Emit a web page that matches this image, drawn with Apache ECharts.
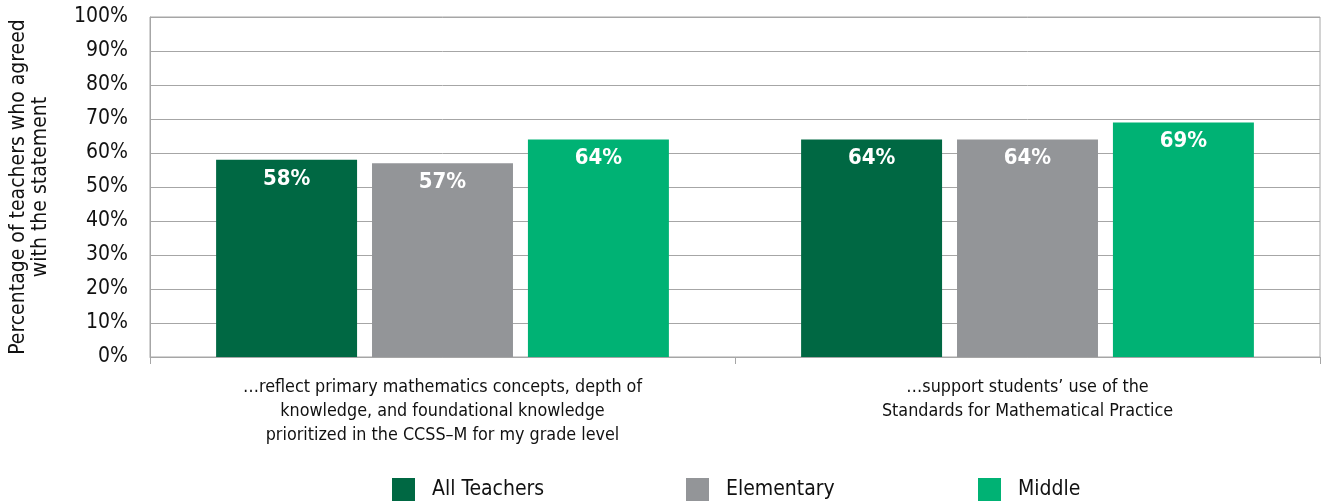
<!DOCTYPE html>
<html>
<head>
<meta charset="utf-8">
<script src="https://cdn.jsdelivr.net/npm/echarts@6/dist/echarts.min.js"></script>
<style>
  html, body { margin: 0; padding: 0; background: #fff; }
  #chart { width: 1324px; height: 503px; }
</style>
</head>
<body>
<div id="chart"></div>
<script>
// categories and values
const categories = [
  '…reflect primary mathematics concepts, depth of\nknowledge, and foundational knowledge\nprioritized in the CCSS–M for my grade level',
  '…support students’ use of the\nStandards for Mathematical Practice'
]
const allTeachers = [58, 64]
const elementary = [57, 64]
const middle = [64, 69]
const yTicks = [0, 10, 20, 30, 40, 50, 60, 70, 80, 90, 100]

const FONT = '"Liberation Sans Narrow", "DejaVu Sans Condensed", "Noto Sans", sans-serif'
const colors = ['#006843', '#939598', '#00b274']

const label = {
  show: true,
  position: 'insideTop',
  distance: 8,
  color: '#fff',
  fontFamily: FONT,
  fontWeight: 'bold',
  fontSize: 22,
  formatter: '{c}%'
}

function legend(name, left) {
  return {
    data: [name],
    left: left,
    top: 478,
    padding: 0,
    itemWidth: 23,
    itemHeight: 23,
    icon: 'rect',
    selectedMode: false,
    textStyle: { fontFamily: FONT, fontSize: 21, color: '#111', padding: [0, 0, 0, 12] }
  }
}

const chart = echarts.init(document.getElementById('chart'))
chart.setOption({
  animation: false,
  color: colors,
  grid: {
    left: 150, right: 4, top: 17, bottom: 146,
    outerBoundsMode: 'none',
    containLabel: false,
    show: true, borderColor: '#a6a6a6', borderWidth: 1
  },
  legend: [
    legend('All Teachers', 392),
    legend('Elementary', 686),
    legend('Middle', 978)
  ],
  xAxis: {
    type: 'category',
    data: categories,
    axisLine: { lineStyle: { color: '#a6a6a6' } },
    axisTick: { show: true, length: 7, lineStyle: { color: '#a6a6a6' } },
    axisLabel: {
      fontFamily: FONT, fontSize: 17.8, color: '#111',
      lineHeight: 24, margin: 18, interval: 0
    }
  },
  yAxis: {
    type: 'value',
    min: yTicks[0],
    max: yTicks[yTicks.length - 1],
    interval: 10,
    name: 'Percentage of teachers who agreed\nwith the statement',
    nameLocation: 'middle',
    nameGap: 98,
    nameTextStyle: { fontFamily: FONT, fontSize: 21, color: '#111', lineHeight: 22 },
    axisLine: { show: true, lineStyle: { color: '#a6a6a6' } },
    axisTick: { show: false },
    splitLine: { lineStyle: { color: '#a6a6a6' } },
    axisLabel: {
      fontFamily: FONT, fontSize: 21, color: '#111', margin: 22,
      formatter: v => v + '%'
    }
  },
  series: [
    { name: 'All Teachers', type: 'bar', data: allTeachers, barCategoryGap: '22.6%', barGap: '10.6%', label },
    { name: 'Elementary', type: 'bar', data: elementary, label },
    { name: 'Middle', type: 'bar', data: middle, label }
  ]
})
</script>
</body>
</html>
